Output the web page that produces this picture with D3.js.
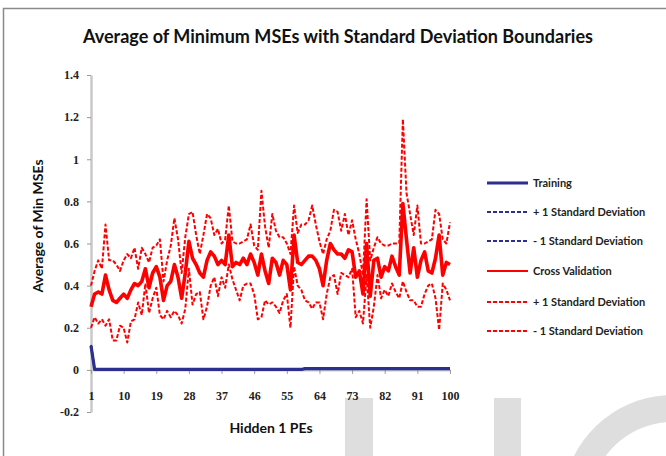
<!DOCTYPE html>
<html><head><meta charset="utf-8">
<script src="https://cdn.jsdelivr.net/npm/d3@7"></script>
<style>html,body{margin:0;padding:0;background:#fff;overflow:hidden}</style>
</head><body>
<script>
const categories = d3.range(1, 101);
const xTickLabels = [1,10,19,28,37,46,55,64,73,82,91,100];
const yTickLabels = [-0.2,0,0.2,0.4,0.6,0.8,1,1.2,1.4];

const trainingMean = [0.115].concat(d3.range(2,60).map(()=>0.002), d3.range(60,101).map(()=>0.006));
const trainingPlus = [0.118].concat(d3.range(2,60).map(()=>0.003), d3.range(60,101).map(()=>0.007));
const trainingMinus = [0.112].concat(d3.range(2,60).map(()=>0.001), d3.range(60,101).map(()=>0.005));

const cvMean = [
0.30,0.36,0.37,0.36,0.45,0.38,0.33,0.32,0.34,0.36,
0.34,0.38,0.41,0.40,0.42,0.48,0.39,0.46,0.49,0.44,
0.33,0.40,0.42,0.50,0.44,0.34,0.46,0.61,0.53,0.50,
0.46,0.44,0.52,0.56,0.54,0.50,0.52,0.50,0.64,0.49,
0.51,0.50,0.53,0.50,0.55,0.51,0.45,0.55,0.47,0.41,
0.53,0.51,0.45,0.52,0.50,0.38,0.64,0.51,0.50,0.52,
0.54,0.54,0.52,0.48,0.40,0.52,0.60,0.57,0.55,0.55,
0.53,0.57,0.56,0.44,0.47,0.36,0.60,0.35,0.52,0.53,
0.44,0.49,0.47,0.54,0.49,0.45,0.79,0.62,0.46,0.58,
0.44,0.52,0.56,0.47,0.46,0.53,0.64,0.45,0.51,0.50];
const cvPlus = [
0.40,0.47,0.52,0.48,0.69,0.52,0.52,0.50,0.47,0.52,
0.55,0.53,0.58,0.48,0.58,0.55,0.51,0.58,0.59,0.62,
0.42,0.52,0.59,0.72,0.62,0.46,0.63,0.74,0.75,0.64,
0.55,0.64,0.74,0.72,0.64,0.67,0.60,0.62,0.78,0.61,
0.60,0.60,0.61,0.62,0.69,0.59,0.57,0.85,0.68,0.58,
0.74,0.66,0.63,0.63,0.60,0.55,0.78,0.65,0.69,0.69,
0.71,0.78,0.69,0.61,0.55,0.62,0.66,0.76,0.75,0.66,
0.74,0.64,0.71,0.62,0.55,0.45,0.81,0.52,0.58,0.63,
0.60,0.59,0.59,0.60,0.60,0.60,1.19,0.84,0.74,0.64,
0.78,0.60,0.60,0.61,0.62,0.76,0.74,0.62,0.60,0.70];
const cvMinus = [
0.20,0.25,0.22,0.24,0.21,0.24,0.14,0.14,0.21,0.20,
0.13,0.23,0.24,0.32,0.26,0.41,0.27,0.34,0.39,0.26,
0.24,0.28,0.25,0.28,0.26,0.22,0.29,0.48,0.31,0.36,
0.37,0.24,0.30,0.40,0.44,0.35,0.44,0.39,0.50,0.43,
0.38,0.33,0.40,0.41,0.41,0.36,0.24,0.25,0.33,0.31,
0.32,0.30,0.27,0.33,0.36,0.20,0.49,0.40,0.38,0.33,
0.32,0.29,0.32,0.32,0.24,0.36,0.44,0.45,0.36,0.46,
0.45,0.44,0.48,0.25,0.28,0.22,0.45,0.20,0.30,0.45,
0.34,0.38,0.35,0.41,0.37,0.34,0.42,0.37,0.33,0.33,
0.30,0.30,0.36,0.40,0.41,0.34,0.19,0.41,0.38,0.33];

const seriesNames = ["Training","+ 1 Standard Deviation","- 1 Standard Deviation","Cross Validation","+ 1 Standard Deviation","- 1 Standard Deviation"];
const titleText = "Average of Minimum MSEs with Standard Deviation Boundaries";
const xTitle = "Hidden 1 PEs";
const yTitle = "Average of Min MSEs";

const W = 666, H = 456;
const svg = d3.select("body").append("svg").attr("width", W).attr("height", H);
const sans = "Lato, 'Open Sans', sans-serif";
const serif = "'Liberation Serif', serif";

// watermark
const wm = svg.append("g").attr("fill", "#dedede");
wm.append("rect").attr("x", 345).attr("y", 398).attr("width", 28).attr("height", 60);
wm.append("rect").attr("x", 494).attr("y", 398).attr("width", 27).attr("height", 60);
wm.append("path")
  .attr("d", d3.arc().innerRadius(84).outerRadius(111).startAngle(-Math.PI*0.75).endAngle(Math.PI*0.6)())
  .attr("transform", "translate(673,506)");

// frame
svg.append("path").attr("d", "M3.5,470 L3.5,8.5 L680,8.5").attr("fill","none").attr("stroke","#8a8a8a").attr("stroke-width",1.5);

const x = d3.scaleLinear().domain([1,100]).range([91,450]);
const y = d3.scaleLinear().domain([-0.2,1.4]).range([412,75]);

// title
svg.append("text").attr("x", 338).attr("y", 43).attr("text-anchor","middle")
  .attr("font-family", sans).attr("font-weight","bold").attr("font-size",18).attr("fill","#111")
  .attr("textLength", 510).attr("lengthAdjust","spacingAndGlyphs").text(titleText);

// y axis
const yAxis = svg.append("g").attr("transform","translate(91,0)")
  .call(d3.axisLeft(y).tickValues(yTickLabels).tickSize(4).tickSizeOuter(0).tickFormat(d => String(+d.toFixed(1))));
yAxis.select(".domain").attr("stroke","#c8c8c8").attr("stroke-width",2.5);
yAxis.selectAll(".tick line").attr("stroke","#999");
yAxis.selectAll(".tick text").attr("font-family", serif).attr("font-weight","bold").attr("font-size",12).attr("fill","#222").attr("x",-12);

// x axis at y=0
const xAxis = svg.append("g").attr("transform",`translate(0,${y(0)})`)
  .call(d3.axisBottom(x).tickValues(xTickLabels).tickSize(4).tickSizeOuter(0).tickFormat(d3.format("d")));
xAxis.select(".domain").attr("stroke","#c8c8c8").attr("stroke-width",2);
xAxis.selectAll(".tick line").attr("stroke","#999");
xAxis.selectAll(".tick text").attr("font-family", serif).attr("font-weight","bold").attr("font-size",12).attr("fill","#222").attr("y",22);

// axis titles
svg.append("text").attr("x", 271).attr("y", 433).attr("text-anchor","middle")
  .attr("font-family", sans).attr("font-weight","bold").attr("font-size",14).attr("fill","#111").text(xTitle);
svg.append("text").attr("transform","translate(43,226) rotate(-90)").attr("text-anchor","middle")
  .attr("font-family", sans).attr("font-weight","bold").attr("font-size",14).attr("fill","#111").text(yTitle);

const line = d3.line().x((d,i)=>x(categories[i])).y(d=>y(d));
const blue = "#2b2f8f", red = "#ff0000";
const series = [
  {v: trainingPlus, c: blue, w: 2, dash: "4,2"},
  {v: trainingMinus, c: blue, w: 2, dash: "4,2"},
  {v: trainingMean, c: blue, w: 3.2, dash: null},
  {v: cvMean, c: red, w: 3.6, dash: null},
  {v: cvPlus, c: red, w: 2, dash: "4,2"},
  {v: cvMinus, c: red, w: 2, dash: "4,2"},
];
series.forEach(s => {
  svg.append("path").attr("d", line(s.v)).attr("fill","none").attr("stroke", s.c)
    .attr("stroke-width", s.w).attr("stroke-dasharray", s.dash).attr("stroke-linejoin","round");
});

// legend
const legendStyles = [
  {c: blue, w: 3, dash: null},
  {c: blue, w: 2, dash: "4,2"},
  {c: blue, w: 2, dash: "4,2"},
  {c: red, w: 2, dash: null},
  {c: red, w: 2, dash: "4,2"},
  {c: red, w: 2, dash: "4,2"},
];
const legendY = [183,212,241,271,302,331];
seriesNames.forEach((n,i) => {
  const g = svg.append("g");
  g.append("line").attr("x1",487).attr("x2",528).attr("y1",legendY[i]).attr("y2",legendY[i])
    .attr("stroke", legendStyles[i].c).attr("stroke-width", legendStyles[i].w).attr("stroke-dasharray", legendStyles[i].dash);
  g.append("text").attr("x",533).attr("y",legendY[i]+4).attr("font-family", sans).attr("font-weight","bold")
    .attr("font-size",11).attr("fill","#222").text(n);
});
</script>
</body></html>
